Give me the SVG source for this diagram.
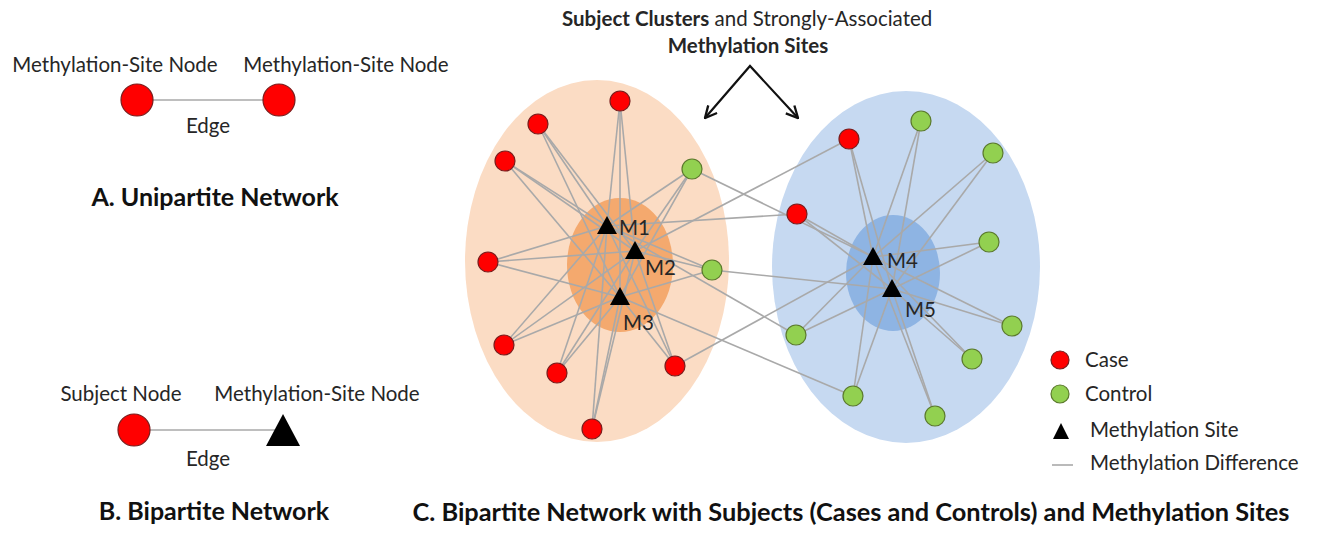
<svg xmlns="http://www.w3.org/2000/svg" width="1321" height="533" viewBox="0 0 1321 533">
  <defs>
    <style>
      text { font-family: Lato, "Open Sans", "Liberation Sans", sans-serif; fill: #262626; }
      .lbl { font-size: 20.5px; }
      .mlbl { font-size: 20.5px; }
      .leg { font-size: 20.5px; }
      .ttl { font-size: 25px; font-weight: 700; fill: #111; }
      .b { font-weight: 700; }
      .case { fill: #ff0000; stroke: #7a1c1c; stroke-width: 1.2; }
      .ctrl { fill: #92d050; stroke: #5b7a2c; stroke-width: 1.2; }
      .site { fill: #000; }
      .edge { stroke: #a9a9a9; stroke-width: 1.6; fill: none; }
      .arrow { stroke: #111; stroke-width: 2.2; fill: none; }
    </style>
    <path id="tri" d="M0,-10 L10,8 L-10,8 Z"/>
    <marker id="head" viewBox="0 0 12 12" refX="11" refY="6" markerWidth="14" markerHeight="14" markerUnits="userSpaceOnUse" orient="auto-start-reverse">
      <path d="M1,1 L11,6 L1,11" fill="none" stroke="#111" stroke-width="2"/>
    </marker>
  </defs>

  <!-- A. Unipartite network -->
  <g id="panel-a">
    <line class="edge" x1="137" y1="100" x2="279" y2="100"/>
    <g id="a-node-1"><circle class="case" cx="137" cy="100" r="16"/></g>
    <g id="a-node-2"><circle class="case" cx="279" cy="100" r="16"/></g>
    <text class="lbl" x="115" y="72" text-anchor="middle">Methylation-Site Node</text>
    <text class="lbl" x="346" y="72" text-anchor="middle">Methylation-Site Node</text>
    <text class="lbl" x="208" y="133" text-anchor="middle">Edge</text>
    <text class="ttl" x="215" y="206" text-anchor="middle">A. Unipartite Network</text>
  </g>

  <!-- B. Bipartite network -->
  <g id="panel-b">
    <line class="edge" x1="134" y1="430" x2="280" y2="430"/>
    <g id="b-subject"><circle class="case" cx="134" cy="430" r="16"/></g>
    <g id="b-site"><path class="site" d="M283,414 L300,446 L266,446 Z"/></g>
    <text class="lbl" x="121" y="401" text-anchor="middle">Subject Node</text>
    <text class="lbl" x="317" y="401" text-anchor="middle">Methylation-Site Node</text>
    <text class="lbl" x="208" y="466" text-anchor="middle">Edge</text>
    <text class="ttl" x="214" y="520" text-anchor="middle">B. Bipartite Network</text>
  </g>

  <!-- C. cluster backgrounds -->
  <g id="clusters">
    <ellipse cx="597" cy="261" rx="132" ry="181" fill="#fbdcc4"/>
    <ellipse cx="620" cy="265" rx="53" ry="67" fill="#f4a96e"/>
    <ellipse cx="906" cy="267" rx="134" ry="176" fill="#c6d9f1"/>
    <ellipse cx="893" cy="273" rx="47" ry="58" fill="#8eb4e3"/>
  </g>

  <!-- connectors: subject to methylation site -->
  <g id="connectors" class="edge">
    <!-- left cluster to M1 (607,226), M2 (635,251), M3 (620,297) -->
    <line x1="620" y1="101" x2="607" y2="226"/><line x1="620" y1="101" x2="635" y2="251"/><line x1="620" y1="101" x2="620" y2="297"/>
    <line x1="538" y1="124" x2="607" y2="226"/><line x1="538" y1="124" x2="635" y2="251"/><line x1="538" y1="124" x2="620" y2="297"/>
    <line x1="505" y1="161" x2="607" y2="226"/><line x1="505" y1="161" x2="635" y2="251"/><line x1="505" y1="161" x2="620" y2="297"/>
    <line x1="692" y1="169" x2="607" y2="226"/><line x1="692" y1="169" x2="635" y2="251"/><line x1="692" y1="169" x2="620" y2="297"/><line x1="692" y1="169" x2="873" y2="257"/>
    <line x1="488" y1="262" x2="607" y2="226"/><line x1="488" y1="262" x2="635" y2="251"/><line x1="488" y1="262" x2="620" y2="297"/>
    <line x1="712" y1="270" x2="607" y2="226"/><line x1="712" y1="270" x2="635" y2="251"/><line x1="712" y1="270" x2="620" y2="297"/><line x1="712" y1="270" x2="892" y2="289"/>
    <line x1="504" y1="345" x2="607" y2="226"/><line x1="504" y1="345" x2="635" y2="251"/><line x1="504" y1="345" x2="620" y2="297"/>
    <line x1="557" y1="373" x2="607" y2="226"/><line x1="557" y1="373" x2="635" y2="251"/><line x1="557" y1="373" x2="620" y2="297"/>
    <line x1="675" y1="366" x2="607" y2="226"/><line x1="675" y1="366" x2="635" y2="251"/><line x1="675" y1="366" x2="620" y2="297"/><line x1="675" y1="366" x2="873" y2="257"/>
    <line x1="592" y1="429" x2="607" y2="226"/><line x1="592" y1="429" x2="635" y2="251"/><line x1="592" y1="429" x2="620" y2="297"/>
    <!-- right cluster to M4 (873,257), M5 (892,289) -->
    <line x1="849" y1="139" x2="873" y2="257"/><line x1="849" y1="139" x2="892" y2="289"/><line x1="849" y1="139" x2="635" y2="251"/>
    <line x1="797" y1="214" x2="873" y2="257"/><line x1="797" y1="214" x2="892" y2="289"/><line x1="797" y1="214" x2="607" y2="226"/>
    <line x1="921" y1="121" x2="873" y2="257"/><line x1="921" y1="121" x2="892" y2="289"/>
    <line x1="993" y1="153" x2="873" y2="257"/><line x1="993" y1="153" x2="892" y2="289"/>
    <line x1="989" y1="242" x2="873" y2="257"/><line x1="989" y1="242" x2="892" y2="289"/>
    <line x1="796" y1="335" x2="873" y2="257"/><line x1="796" y1="335" x2="892" y2="289"/><line x1="796" y1="335" x2="607" y2="226"/>
    <line x1="1012" y1="326" x2="873" y2="257"/><line x1="1012" y1="326" x2="892" y2="289"/>
    <line x1="972" y1="359" x2="873" y2="257"/><line x1="972" y1="359" x2="892" y2="289"/>
    <line x1="853" y1="396" x2="873" y2="257"/><line x1="853" y1="396" x2="892" y2="289"/><line x1="853" y1="396" x2="620" y2="297"/>
    <line x1="935" y1="416" x2="873" y2="257"/><line x1="935" y1="416" x2="892" y2="289"/>
  </g>

  <!-- subject nodes, left cluster -->
  <g id="s-l1"><circle class="case" cx="620" cy="101" r="10"/></g>
  <g id="s-l2"><circle class="case" cx="538" cy="124" r="10"/></g>
  <g id="s-l3"><circle class="case" cx="505" cy="161" r="10"/></g>
  <g id="s-l4"><circle class="ctrl" cx="692" cy="169" r="10"/></g>
  <g id="s-l5"><circle class="case" cx="488" cy="262" r="10"/></g>
  <g id="s-l6"><circle class="ctrl" cx="712" cy="270" r="10"/></g>
  <g id="s-l7"><circle class="case" cx="504" cy="345" r="10"/></g>
  <g id="s-l8"><circle class="case" cx="557" cy="373" r="10"/></g>
  <g id="s-l9"><circle class="case" cx="675" cy="366" r="10"/></g>
  <g id="s-l10"><circle class="case" cx="592" cy="429" r="10"/></g>

  <!-- subject nodes, right cluster -->
  <g id="s-r1"><circle class="case" cx="849" cy="139" r="10"/></g>
  <g id="s-r2"><circle class="case" cx="797" cy="214" r="10"/></g>
  <g id="s-r3"><circle class="ctrl" cx="921" cy="121" r="10"/></g>
  <g id="s-r4"><circle class="ctrl" cx="993" cy="153" r="10"/></g>
  <g id="s-r5"><circle class="ctrl" cx="989" cy="242" r="10"/></g>
  <g id="s-r6"><circle class="ctrl" cx="796" cy="335" r="10"/></g>
  <g id="s-r7"><circle class="ctrl" cx="1012" cy="326" r="10"/></g>
  <g id="s-r8"><circle class="ctrl" cx="972" cy="359" r="10"/></g>
  <g id="s-r9"><circle class="ctrl" cx="853" cy="396" r="10"/></g>
  <g id="s-r10"><circle class="ctrl" cx="935" cy="416" r="10"/></g>

  <!-- methylation-site nodes -->
  <g id="site-m1"><use href="#tri" x="607" y="226" class="site"/><text class="mlbl" x="619" y="235">M1</text></g>
  <g id="site-m2"><use href="#tri" x="635" y="251" class="site"/><text class="mlbl" x="645" y="275">M2</text></g>
  <g id="site-m3"><use href="#tri" x="620" y="297" class="site"/><text class="mlbl" x="623" y="330">M3</text></g>
  <g id="site-m4"><use href="#tri" x="873" y="257" class="site"/><text class="mlbl" x="887" y="268">M4</text></g>
  <g id="site-m5"><use href="#tri" x="892" y="289" class="site"/><text class="mlbl" x="905" y="317">M5</text></g>

  <!-- cluster caption with arrows -->
  <g id="cluster-caption">
    <text class="lbl" x="562" y="26"><tspan class="b">Subject Clusters</tspan> and Strongly-Associated</text>
    <text class="lbl b" x="748" y="53" text-anchor="middle">Methylation Sites</text>
    <polyline class="arrow" points="705,118 750,66 798,118" marker-start="url(#head)" marker-end="url(#head)"/>
  </g>

  <!-- legend -->
  <g id="legend">
    <circle class="case" cx="1060" cy="360" r="9"/>
    <text class="leg" x="1085" y="367">Case</text>
    <circle class="ctrl" cx="1060" cy="394" r="9"/>
    <text class="leg" x="1085" y="401">Control</text>
    <path class="site" d="M1061,423 L1069,439 L1053,439 Z"/>
    <text class="leg" x="1090" y="437">Methylation Site</text>
    <line class="edge" x1="1052" y1="465" x2="1073" y2="465"/>
    <text class="leg" x="1090" y="470">Methylation Difference</text>
  </g>

  <text class="ttl" x="851" y="521" text-anchor="middle" textLength="877" lengthAdjust="spacingAndGlyphs">C. Bipartite Network with Subjects (Cases and Controls) and Methylation Sites</text>
</svg>
